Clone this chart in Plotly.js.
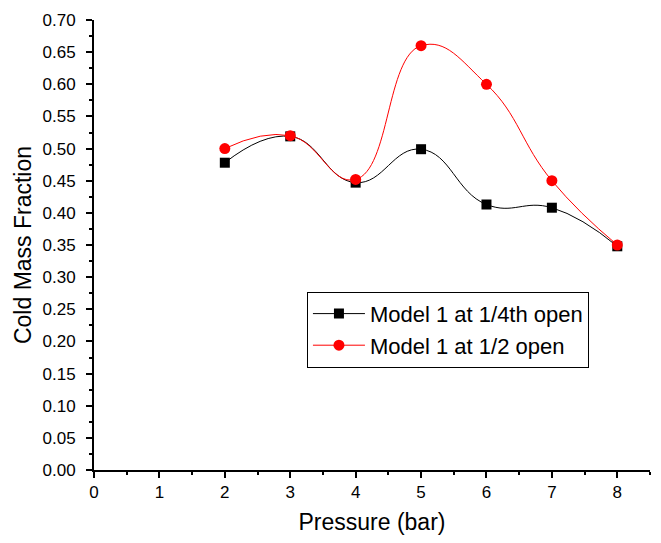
<!DOCTYPE html>
<html><head><meta charset="utf-8">
<script src="https://cdn.plot.ly/plotly-3.0.1.min.js"></script>
<style>html,body{margin:0;padding:0;background:#fff}#chart{width:661px;height:543px}</style>
</head><body><div id="chart"></div>
<script>
const pressure = [2, 3, 4, 5, 6, 7, 8];
const quarterOpen = [0.478, 0.519, 0.447, 0.499, 0.413, 0.408, 0.348];
const halfOpen = [0.500, 0.520, 0.452, 0.660, 0.600, 0.450, 0.350];
const seriesNames = ["Model 1 at 1/4th open", "Model 1 at 1/2 open"];
const xTicks = [0, 1, 2, 3, 4, 5, 6, 7, 8];
const yTicks = [0, 0.05, 0.10, 0.15, 0.20, 0.25, 0.30, 0.35, 0.40, 0.45, 0.50, 0.55, 0.60, 0.65, 0.70];

const font = "Liberation Sans, Arial, sans-serif";
const traces = [
  {x: pressure, y: quarterOpen, name: seriesNames[0], mode: "lines+markers",
   line: {color: "#000000", width: 1, shape: "spline", smoothing: 1.3},
   marker: {symbol: "square", size: 10, color: "#000000"}},
  {x: pressure, y: halfOpen, name: seriesNames[1], mode: "lines+markers",
   line: {color: "#ff0000", width: 1, shape: "spline", smoothing: 1.3},
   marker: {symbol: "circle", size: 11, color: "#ff0000"}}
];
const axisCommon = {
  showgrid: false, zeroline: false, showline: true, linecolor: "#000", linewidth: 2,
  ticks: "outside", ticklen: 6, tickwidth: 2, tickcolor: "#000",
  tickfont: {family: font, size: 17, color: "#000"},
  minor: {ticks: "outside", ticklen: 3, tickwidth: 1.5, tickcolor: "#000"}
};
const layout = {
  width: 661, height: 543,
  margin: {l: 94, r: 11, t: 20, b: 73},
  paper_bgcolor: "#fff", plot_bgcolor: "#fff",
  showlegend: true,
  legend: {x: 0.383, y: 0.396, xanchor: "left", yanchor: "top",
    bordercolor: "#000", borderwidth: 1, bgcolor: "#fff", itemwidth: 52,
    font: {family: font, size: 22, color: "#000"}, tracegroupgap: 0},
  xaxis: Object.assign({}, axisCommon, {
    range: [0, 8.5], tickvals: xTicks, ticktext: xTicks.map(String),
    minor: Object.assign({}, axisCommon.minor, {dtick: 0.5, tick0: 0}),
    title: {text: "Pressure (bar)", font: {family: font, size: 23, color: "#000"}, standoff: 12}
  }),
  yaxis: Object.assign({}, axisCommon, {
    range: [0, 0.70], tickvals: yTicks, ticktext: yTicks.map(v => v.toFixed(2)),
    ticklabelstandoff: 7,
    minor: Object.assign({}, axisCommon.minor, {dtick: 0.025, tick0: 0}),
    title: {text: "Cold Mass Fraction", font: {family: font, size: 23, color: "#000"}, standoff: 4}
  })
};
Plotly.newPlot("chart", traces, layout, {displayModeBar: false});
</script></body></html>
